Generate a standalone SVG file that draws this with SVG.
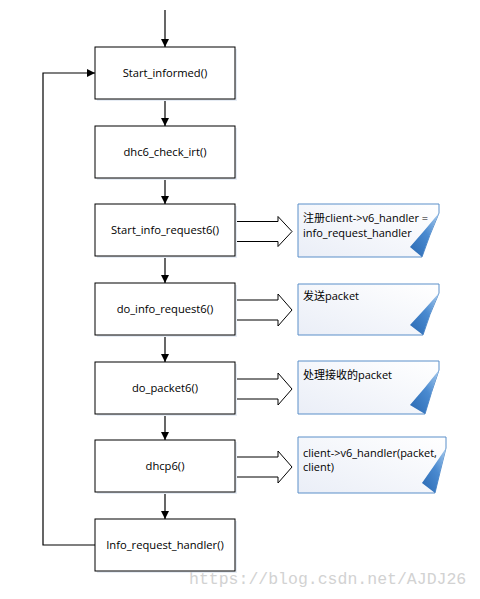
<svg xmlns="http://www.w3.org/2000/svg" width="480" height="599" viewBox="0 0 480 599">
<style>
.box{fill:#fff;stroke:#000;stroke-width:1}
.shadow{fill:#e6ecf4}
.lbl{font-family:"Open Sans","Noto Sans","DejaVu Sans",sans-serif;font-size:11.2px;fill:#000;text-anchor:middle}
.ntxt{font-family:"Open Sans","Noto Sans CJK SC",sans-serif;font-size:11px;fill:#000}
.conn{fill:none;stroke:#000;stroke-width:1.2}
.blk{fill:#fff;stroke:#000;stroke-width:1}
.note{fill:url(#ng);stroke:#5b8fc9;stroke-width:1}
.curl{fill:url(#cg)}
.wm{font-family:"Liberation Mono",monospace;font-size:16.5px;fill:#d2d2d2}
</style>
<defs>
<marker id="ah" markerUnits="userSpaceOnUse" markerWidth="8" markerHeight="8" refX="8" refY="4" orient="auto">
<path d="M0,0 L8,4 L0,8 z" fill="#000"/>
</marker>
<linearGradient id="ng" x1="1" y1="0" x2="0" y2="1">
<stop offset="0" stop-color="#ffffff"/>
<stop offset="1" stop-color="#eaeef7"/>
</linearGradient>
<linearGradient id="cg" x1="1" y1="0" x2="0" y2="1">
<stop offset="0" stop-color="#a8cbed"/>
<stop offset="0.45" stop-color="#4a8ad0"/>
<stop offset="1" stop-color="#2a69b2"/>
</linearGradient>
</defs>

<g id="connectors">
<line class="conn" x1="165" y1="10" x2="165" y2="47" marker-end="url(#ah)"/>
<line class="conn" x1="165" y1="99" x2="165" y2="126" marker-end="url(#ah)"/>
<line class="conn" x1="165" y1="178" x2="165" y2="204" marker-end="url(#ah)"/>
<line class="conn" x1="165" y1="257" x2="165" y2="283" marker-end="url(#ah)"/>
<line class="conn" x1="165" y1="335" x2="165" y2="362" marker-end="url(#ah)"/>
<line class="conn" x1="165" y1="414" x2="165" y2="440" marker-end="url(#ah)"/>
<line class="conn" x1="165" y1="492" x2="165" y2="519" marker-end="url(#ah)"/>
<polyline class="conn" points="95,545 43,545 43,73 95,73" marker-end="url(#ah)"/>
<polygon class="blk" points="235,221.5 278,221.5 278,216.5 292,231.5 278,246.5 278,241.5 235,241.5"/>
<polygon class="blk" points="235,300 278,300 278,294 292,310 278,326 278,320 235,320"/>
<polygon class="blk" points="235,379 278,379 278,373 292,389 278,405 278,399 235,399"/>
<polygon class="blk" points="235,457 278,457 278,451 292,467 278,483 278,477 235,477"/>
</g>

<g id="n1"><rect class="shadow" x="97" y="49" width="140" height="52"/><rect class="box" x="95" y="47" width="140" height="52"/><text class="lbl" x="165" y="77">Start_informed()</text></g>
<g id="n2"><rect class="shadow" x="97" y="128" width="140" height="52"/><rect class="box" x="95" y="126" width="140" height="52"/><text class="lbl" x="165" y="156">dhc6_check_irt()</text></g>
<g id="n3"><rect class="shadow" x="97" y="206" width="140" height="52"/><rect class="box" x="95" y="204" width="140" height="52"/><text class="lbl" x="165" y="234">Start_info_request6()</text></g>
<g id="n4"><rect class="shadow" x="97" y="285" width="140" height="52"/><rect class="box" x="95" y="283" width="140" height="52"/><text class="lbl" x="165" y="313">do_info_request6()</text></g>
<g id="n5"><rect class="shadow" x="97" y="364" width="140" height="52"/><rect class="box" x="95" y="362" width="140" height="52"/><text class="lbl" x="165" y="392">do_packet6()</text></g>
<g id="n6"><rect class="shadow" x="97" y="442" width="140" height="52"/><rect class="box" x="95" y="440" width="140" height="52"/><text class="lbl" x="165" y="470">dhcp6()</text></g>
<g id="n7"><rect class="shadow" x="97" y="521" width="140" height="52"/><rect class="box" x="95" y="519" width="140" height="52"/><text class="lbl" x="165" y="549">Info_request_handler()</text></g>

<g id="note1">
<path class="note" d="M298,204 H439 V213 Q429,236 422,257 H298 Z"/>
<path class="curl" d="M439,213 Q425,230 410,247 L422,257 Q429,236 439,213 Z"/>
<text class="ntxt" x="303" y="222">注册client-&gt;v6_handler =</text>
<text class="ntxt" x="303" y="237">info_request_handler</text>
</g>
<g id="note2">
<path class="note" d="M298,284 H439 V293 Q429,315 423,335 H298 Z"/>
<path class="curl" d="M439,293 Q425,309 410,325 L423,335 Q429,315 439,293 Z"/>
<text class="ntxt" x="303" y="300">发送packet</text>
</g>
<g id="note3">
<path class="note" d="M298,361 H439 V370 Q431,393 425,414 H298 Z"/>
<path class="curl" d="M439,370 Q425,388 410,405 L425,414 Q431,393 439,370 Z"/>
<text class="ntxt" x="303" y="379">处理接收的packet</text>
</g>
<g id="note4">
<path class="note" d="M298,437 H446 V448 Q440,472 435,493 H298 Z"/>
<path class="curl" d="M446,448 Q434,466 422,483 L435,493 Q440,472 446,448 Z"/>
<text class="ntxt" x="303" y="457">client-&gt;v6_handler(packet,</text>
<text class="ntxt" x="303" y="471">client)</text>
</g>

<text class="wm" x="189" y="584">https://blog.csdn.net/AJDJ26</text>
</svg>
